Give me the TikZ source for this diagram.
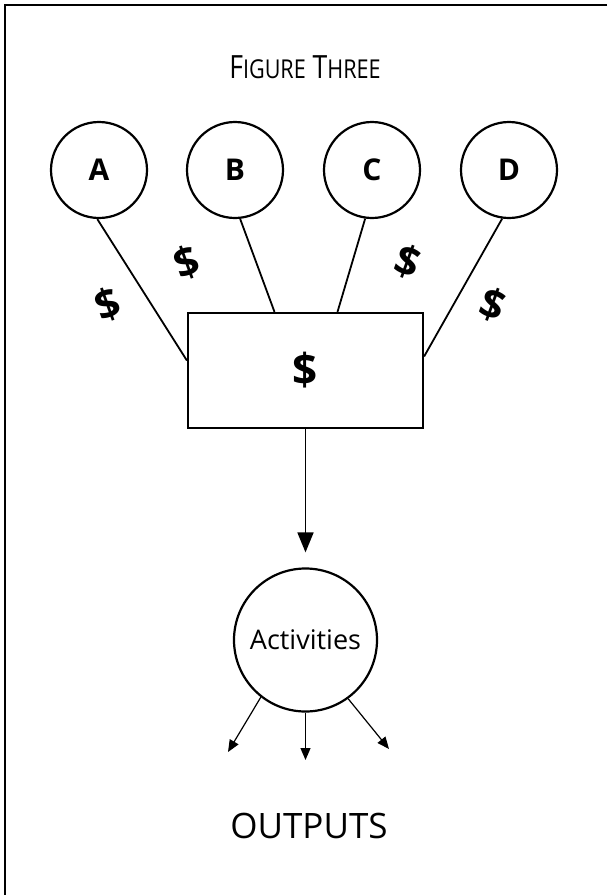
\documentclass[tikz,border=0pt]{standalone}
\usepackage{fontspec}
\setmainfont{Open Sans}
\newfontfamily\titlefont[FakeStretch=0.83]{Open Sans}
\usetikzlibrary{arrows.meta, positioning}
\tikzset{
  fund/.style={circle, draw, line width=1.1pt, minimum size=48pt, inner sep=0pt, font=\fontsize{15}{17}\selectfont\bfseries},
  pool/.style={rectangle, draw, line width=1.1pt, minimum width=117.5pt, minimum height=57.5pt, font=\fontsize{22}{25}\selectfont\bfseries},
  activity/.style={circle, draw, line width=1.1pt, minimum size=71.5pt, inner sep=0pt, font=\fontsize{13.5}{15}\selectfont},
  money/.style={font=\fontsize{21}{24}\selectfont\bfseries},
  feed/.style={line width=0.9pt},
  flow/.style={line width=0.9pt, -{Triangle[length=10pt,width=8pt]}},
  outflow/.style={line width=0.6pt, -{Triangle[length=6pt,width=5pt]}}
}
\begin{document}
\begin{tikzpicture}[x=0.5pt, y=-0.5pt]
  \useasboundingbox (0,0) rectangle (607,895);
  % frame
  \draw[line width=1.3pt] (607,5) -- (5,5) -- (5,895);

  % title
  \node[font=\titlefont\fontsize{16}{19}\selectfont] (title) at (305,67) {F{\fontsize{13}{15}\selectfont IGURE} T{\fontsize{13}{15}\selectfont HREE}};

  % funding sources
  \node[fund] (a) at (99,170) {A};
  \node[fund] (b) at (235,170) {B};
  \node[fund] (c) at (372,170) {C};
  \node[fund] (d) at (509,170) {D};

  % pooled money
  \node[pool] (box) at (305.5,370.5) {\$};
  \draw[feed] (a.-92) -- ([yshift=5pt]box.west);
  \draw[feed] (b.-84) -- ([xshift=-15.5pt]box.north);
  \draw[feed] (c.-98) -- ([xshift=16pt]box.north);
  \draw[feed] (d.-98) -- ([yshift=7pt]box.east);

  % dollar signs between the lines
  \node[money, rotate=20] (m1) at (108,305) {\$};
  \node[money, rotate=20] (m2) at (187,263) {\$};
  \node[money, rotate=-20] (m3) at (408,262) {\$};
  \node[money, rotate=-20] (m4) at (493,305) {\$};

  % activities
  \node[activity] (act) at (305.5,640) {Activities};
  \draw[flow, shorten >=7.5pt] (box.south) -- (act.north);

  % outputs
  \coordinate (o1) at (228,752);
  \coordinate (o2) at (305.5,760);
  \coordinate (o3) at (389,749);
  \draw[outflow] (act.-128) -- (o1);
  \draw[outflow] (act.south) -- (o2);
  \draw[outflow] (act.-54) -- (o3);
  \node[font=\fontsize{17.5}{20}\selectfont] (out) at (309,826) {OUTPUTS};
\end{tikzpicture}
\end{document}
